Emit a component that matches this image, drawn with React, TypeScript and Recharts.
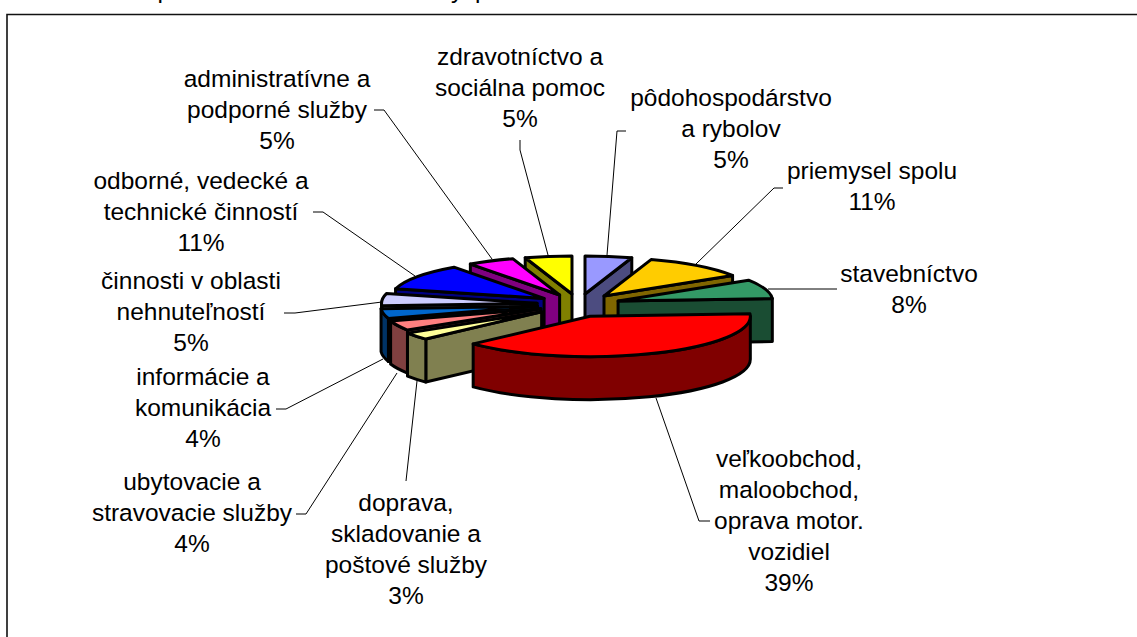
import React from "react";
import { PieChart, Pie } from "recharts";

// Label rows per sector, clockwise from the top
const categories = [
  ["pôdohospodárstvo", "a rybolov"],
  ["priemysel spolu"],
  ["stavebníctvo"],
  ["veľkoobchod,", "maloobchod,", "oprava motor.", "vozidiel"],
  ["doprava,", "skladovanie a", "poštové služby"],
  ["ubytovacie a", "stravovacie služby"],
  ["informácie a", "komunikácia"],
  ["činnosti v oblasti", "nehnuteľností"],
  ["odborné, vedecké a", "technické činností"],
  ["administratívne a", "podporné služby"],
  ["zdravotníctvo a", "sociálna pomoc"],
];
const shares = [5, 11, 8, 39, 3, 4, 4, 5, 11, 5, 5];
const topColors = [
  "#9999FF", "#FFCC00", "#339966", "#FF0000", "#FFFF99", "#FF8080",
  "#0066CC", "#CCCCFF", "#0000FF", "#FF00FF", "#FFFF00",
];
const wallColors = [
  "#4C4C80", "#806600", "#1A4D33", "#800000", "#808050", "#804040",
  "#003366", "#666680", "#000080", "#800080", "#808000",
];

// Label placement: centre x and first row centre y
const labelAnchors = [
  [731, 98], [872, 171], [909, 274], [789, 459], [406, 503], [192, 482],
  [203, 377], [191, 281], [201, 181], [277, 79], [520, 57],
];
const leaderLines = [
  "626,131 617,131 607,255",
  "783,188 774,188 696,264",
  "837,289 768,289",
  "710,521 699,521 656,398",
  "406,481 417,381",
  "296,514 306,514 397,373",
  "276,409 286,409 383,359",
  "284,313 295,313 382,302",
  "313,212 323,212 415,276",
  "374,110 384,110 492,259",
  "520,140 520,150 548,255",
];
// Small per-slice shifts standing in for the original's perspective
const apexNudges = [
  [0, 0], [0, 0], [0, 0], [-5, 2.4], [-4, 1], [0, 0],
  [0, 0], [0, 0], [0, 0], [0, 0], [0, 0],
];
// Descenders of the caption line that the crop cuts off at the top edge
const captionScraps = [
  { text: "p", x: 157.5 },
  { text: "y", x: 451 },
  { text: "p", x: 475 },
];

const WIDTH = 1137;
const HEIGHT = 637;
const CX = 578.5;
const CY = 304.3;
const RX = 156;
const SQUASH = 0.2516;
const DEPTH = 43;
const EXPLODE = 41.6;
const ROW = 31;

const rows = categories.map((c, i) => ({
  name: c.join(" "),
  value: shares[i],
  fill: topColors[i],
  wall: wallColors[i],
  index0: i,
}));
const total = shares.reduce((a, b) => a + b, 0);

// Painter's order: each side runs from the back towards the viewer
const rightRows = rows.slice(0, 4);
const leftRows = rows.slice(4).reverse();
const sum = (list: typeof rows) => list.reduce((a, r) => a + r.value, 0);

const rad = (d: number) => (d * Math.PI) / 180;

const Slice3D = (props: any) => {
  const { cx, cy, outerRadius, startAngle, endAngle, fill } = props;
  const wall = props.wall ?? props.payload?.wall;
  const i = props.index0 ?? props.payload?.index0;
  // theta runs clockwise from the top of the pie
  let t1 = 90 - Math.max(startAngle, endAngle);
  let t2 = 90 - Math.min(startAngle, endAngle);
  if (t1 < 0) {
    t1 += 360;
    t2 += 360;
  }
  const mid = (t1 + t2) / 2;
  const ax = cx + EXPLODE * Math.sin(rad(mid)) + apexNudges[i][0];
  const ay = cy - EXPLODE * SQUASH * Math.cos(rad(mid)) + apexNudges[i][1];
  // front slices come out a little larger than the back ones
  const rx = outerRadius * (1 - 0.03 * Math.cos(rad(mid)));
  const ry = rx * SQUASH;
  const px = (t: number) => ax + rx * Math.sin(rad(t));
  const py = (t: number) => ay - ry * Math.cos(rad(t));
  const line = { stroke: "#000", strokeWidth: 3, strokeLinejoin: "round" as const };

  const cutWall = (t: number) =>
    `M${ax},${ay} L${px(t)},${py(t)} L${px(t)},${py(t) + DEPTH} L${ax},${ay + DEPTH} Z`;

  const a = Math.max(t1, 90);
  const b = Math.min(t2, 270);
  const large = t2 - t1 > 180 ? 1 : 0;

  return (
    <g>
      {Math.sin(rad(t2)) > 0 && <path d={cutWall(t2)} fill={wall} {...line} />}
      {Math.sin(rad(t1)) < 0 && <path d={cutWall(t1)} fill={wall} {...line} />}
      {b > a && (
        <path
          d={`M${px(a)},${py(a)} A${rx},${ry} 0 0 1 ${px(b)},${py(b)} L${px(b)},${py(b) + DEPTH} A${rx},${ry} 0 0 0 ${px(a)},${py(a) + DEPTH} Z`}
          fill={wall}
          {...line}
        />
      )}
      <path
        d={`M${ax},${ay} L${px(t1)},${py(t1)} A${rx},${ry} 0 ${large} 1 ${px(t2)},${py(t2)} Z`}
        fill={fill}
        {...line}
      />
    </g>
  );
};

const FONT = "'Liberation Sans', Arial, sans-serif";

const SliceLabel = (props: any) => {
  const i = props.index0 ?? props.payload?.index0;
  const [x, y] = labelAnchors[i];
  const lines = [...categories[i], `${shares[i]}%`];
  return (
    <g>
      <polyline points={leaderLines[i]} fill="none" stroke="#000" strokeWidth={1} />
      {lines.map((t, n) => (
        <text
          key={n}
          x={x}
          y={y + n * ROW + 8}
          textAnchor="middle"
          fontFamily={FONT}
          fontSize={24.5}
          fill="#000"
        >
          {t}
        </text>
      ))}
    </g>
  );
};

export default function App() {
  return (
    <div style={{ position: "absolute", left: 0, top: 0, width: WIDTH, height: HEIGHT, background: "#fff" }}>
      <PieChart width={WIDTH} height={HEIGHT} margin={{ top: 0, right: 0, bottom: 0, left: 0 }}>
        {captionScraps.map((s, i) => (
          <text key={i} x={s.x} y={-2.5} fontFamily={FONT} fontSize={24.5} fill="#000">
            {s.text}
          </text>
        ))}
        <polyline points={`7,${HEIGHT} 7,14.5 ${WIDTH},14.5`} fill="none" stroke="#111" strokeWidth={1.6} />
        <Pie
          data={leftRows}
          dataKey="value"
          cx={CX}
          cy={CY}
          innerRadius={0}
          outerRadius={RX}
          startAngle={90}
          endAngle={90 + (360 * sum(leftRows)) / total}
          stroke="none"
          shape={Slice3D}
          label={SliceLabel}
          labelLine={false}
          isAnimationActive={false}
        />
        <Pie
          data={rightRows}
          dataKey="value"
          cx={CX}
          cy={CY}
          innerRadius={0}
          outerRadius={RX}
          startAngle={90}
          endAngle={90 - (360 * sum(rightRows)) / total}
          stroke="none"
          shape={Slice3D}
          label={SliceLabel}
          labelLine={false}
          isAnimationActive={false}
        />
      </PieChart>
    </div>
  );
}
